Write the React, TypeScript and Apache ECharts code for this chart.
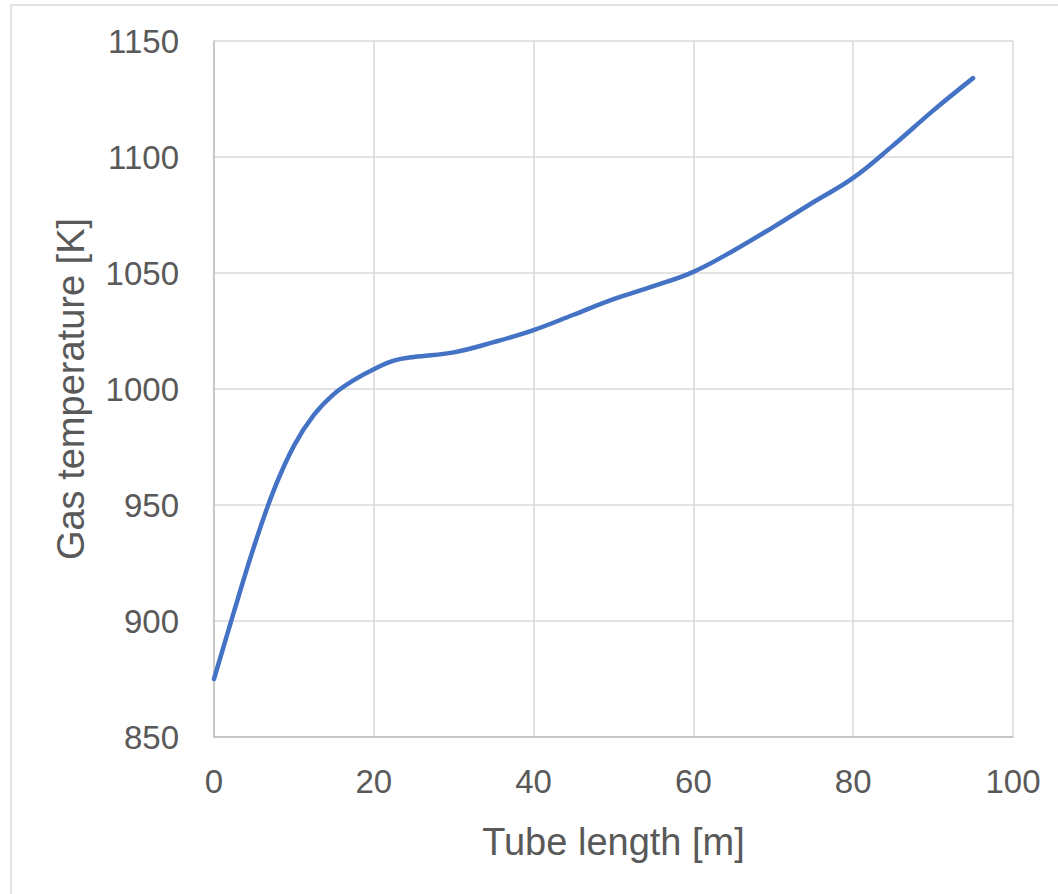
import React, { useEffect, useRef } from "react";
import * as echarts from "echarts";

const tubeLength = [0, 2.5, 5, 7.5, 10, 12.5, 15, 17.5, 20, 22.5, 25, 30, 35, 40, 45, 50, 55, 60, 65, 70, 75, 80, 85, 90, 95];
const gasTemperature = [875, 904, 932, 956.5, 975.5, 988.8, 997.8, 1003.8, 1008.5, 1012.2, 1013.8, 1015.8, 1020.2, 1025.4, 1032, 1038.7, 1044.3, 1050.5, 1059.6, 1069.8, 1080.5, 1091, 1105, 1120, 1134];

const xAxisTitle = "Tube length [m]";
const yAxisTitle = "Gas temperature [K]";

export default function App() {
  const ref = useRef<HTMLDivElement>(null);
  useEffect(() => {
    if (!ref.current) return;
    const chart = echarts.init(ref.current, undefined, { renderer: "svg" });
    const font = "Liberation Sans";
    chart.setOption({
      animation: false,
      backgroundColor: "#ffffff",
      graphic: [
        {
          type: "rect",
          shape: { x: 11, y: 5, width: 1200, height: 1000 },
          style: { fill: "none", stroke: "#d9d9d9", lineWidth: 1.5 },
          silent: true,
        },
      ],
      grid: { left: 214, top: 41, right: 45, bottom: 157 },
      xAxis: {
        type: "value",
        min: 0,
        max: 100,
        interval: 20,
        name: xAxisTitle,
        nameLocation: "middle",
        nameGap: 86,
        nameTextStyle: { fontFamily: font, fontSize: 38, color: "#595959" },
        axisLine: { show: true, lineStyle: { color: "#bfbfbf", width: 1.5 } },
        axisTick: { show: false },
        axisLabel: { fontFamily: font, fontSize: 33, color: "#595959", margin: 28, formatter: (v: number) => String(v) },
        splitLine: { show: true, lineStyle: { color: "#d9d9d9", width: 1.5 } },
      },
      yAxis: {
        type: "value",
        min: 850,
        max: 1150,
        interval: 50,
        name: yAxisTitle,
        nameLocation: "middle",
        nameGap: 124,
        nameTextStyle: { fontFamily: font, fontSize: 38, color: "#595959" },
        axisLine: { show: true, lineStyle: { color: "#bfbfbf", width: 1.5 } },
        axisTick: { show: false },
        axisLabel: { fontFamily: font, fontSize: 33, color: "#595959", margin: 35, formatter: (v: number) => String(v) },
        splitLine: { show: true, lineStyle: { color: "#d9d9d9", width: 1.5 } },
      },
      series: [
        {
          type: "line",
          data: tubeLength.map((x, i) => [x, gasTemperature[i]]),
          smooth: 0.4,
          showSymbol: false,
          lineStyle: { color: "#4472c4", width: 4.5, cap: "round" },
        },
      ],
    });
    return () => chart.dispose();
  }, []);
  return (
    <div
      ref={ref}
      style={{ position: "fixed", left: 0, top: 0, width: 1058, height: 894 }}
    />
  );
}
